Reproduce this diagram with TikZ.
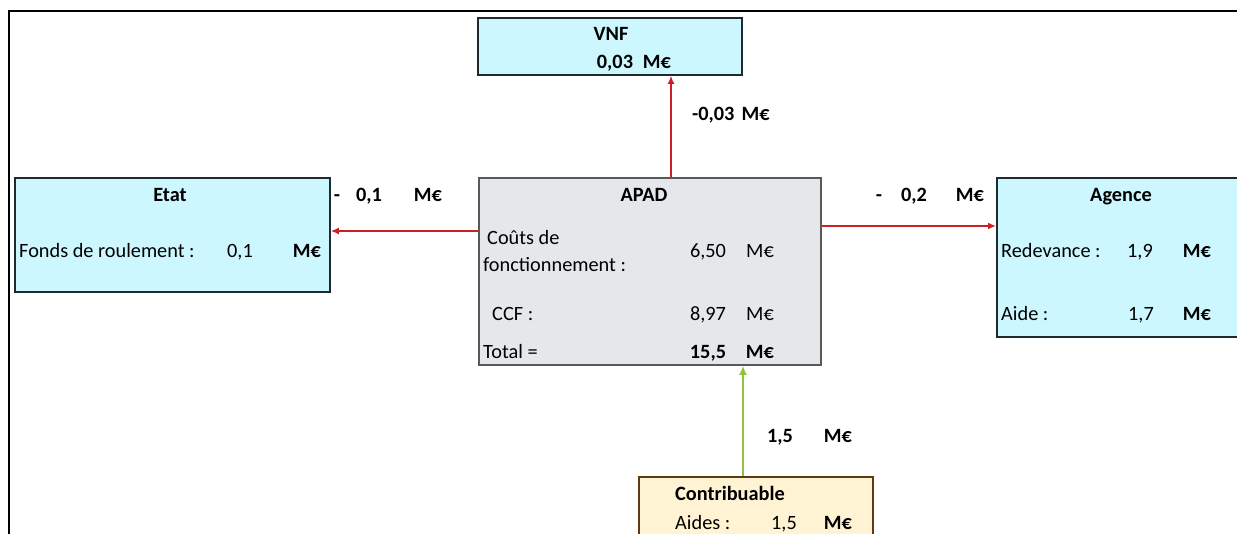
\documentclass[tikz,border=0pt]{standalone}
\usepackage{fontspec}
\setmainfont{Carlito}
\usetikzlibrary{arrows.meta}
\definecolor{boxcyan}{HTML}{CCF7FF}
\definecolor{boxgray}{HTML}{E5E8EB}
\definecolor{boxcream}{HTML}{FFF3D4}
\definecolor{brownline}{HTML}{5A3B12}
\definecolor{darkline}{HTML}{1E2A30}
\definecolor{flowred}{HTML}{CC2027}
\definecolor{flowgreen}{HTML}{8CC43C}
\tikzset{
  boxbase/.style={draw=darkline, line width=1.8pt, anchor=north west, inner sep=0pt},
  cyanbox/.style={boxbase, fill=boxcyan},
  graybox/.style={boxbase, fill=boxgray, draw=black!65},
  creambox/.style={boxbase, fill=boxcream, draw=brownline},
  txt/.style={inner sep=0pt, anchor=base, font=\fontsize{20.3}{22}\selectfont, text=black},
  btxt/.style={txt, font=\fontsize{20.3}{22}\selectfont\bfseries},
  ltxt/.style={txt, anchor=base west},
  bltxt/.style={btxt, anchor=base west},
  redflow/.style={draw=flowred, line width=2.2pt, -{Latex[length=8pt,width=7pt]}},
  greenflow/.style={draw=flowgreen, line width=2.6pt, -{Latex[length=9pt,width=8pt]}},
  frameline/.style={draw=black, line width=2pt}
}
\begin{document}
\begin{tikzpicture}[x=1pt,y=-1pt]
\useasboundingbox (0,0) rectangle (1237,533);
\clip (0,0) rectangle (1237,533);
\fill[white] (0,0) rectangle (1237,533);
% outer frame
\coordinate (fTL) at (9,11);
\coordinate (fBL) at (9,540);
\coordinate (fTR) at (1245,11);
\draw[frameline] (fBL) -- (fTL) -- (fTR);

% boxes
\node[cyanbox, minimum width=264pt, minimum height=57pt] (vnf) at (477,17) {};
\node[cyanbox, minimum width=315pt, minimum height=114pt] (etat) at (14,177) {};
\node[graybox, minimum width=342pt, minimum height=187pt] (apad) at (478,177) {};
\node[cyanbox, minimum width=260pt, minimum height=159pt] (agence) at (996,177) {};
\node[creambox, minimum width=234pt, minimum height=80pt] (contrib) at (638,476) {};

% VNF texts
\node[btxt] (vnfT) at (611,40) {VNF};
\node[btxt] (vnfV) at (615,68) {0,03};
\node[btxt] (vnfU) at (657,68) {M€};

% Etat texts
\node[btxt] (etatT) at (170,201) {Etat};
\node[ltxt] (etatL) at (19,257) {Fonds de roulement :};
\node[txt] (etatV) at (240,257) {0,1};
\node[btxt] (etatU) at (307,257) {M€};

% APAD texts
\node[btxt] (apadT) at (644,201) {APAD};
\node[ltxt] (apadL1) at (487,244) {Coûts de};
\node[ltxt] (apadL2) at (483,271) {fonctionnement :};
\node[txt] (apadV1) at (708,257) {6,50};
\node[txt] (apadU1) at (760,257) {M€};
\node[ltxt] (apadL3) at (492,320) {CCF :};
\node[txt] (apadV2) at (708,320) {8,97};
\node[txt] (apadU2) at (760,320) {M€};
\node[ltxt] (apadL4) at (483,358) {Total =};
\node[btxt] (apadV3) at (708,358) {15,5};
\node[btxt] (apadU3) at (760,358) {M€};

% Agence texts
\node[btxt] (agT) at (1121,201) {Agence};
\node[ltxt] (agL1) at (1001,257) {Redevance :};
\node[txt] (agV1) at (1140,257) {1,9};
\node[btxt] (agU1) at (1197,257) {M€};
\node[ltxt] (agL2) at (1001,320) {Aide :};
\node[txt] (agV2) at (1141,320) {1,7};
\node[btxt] (agU2) at (1197,320) {M€};

% Contribuable texts
\node[bltxt] (coT) at (675,500) {Contribuable};
\node[ltxt] (coL) at (675,529) {Aides :};
\node[txt] (coV) at (784,529) {1,5};
\node[btxt] (coU) at (838,529) {M€};

% flows
\coordinate (xv) at (671,0);
\draw[redflow] (apad.north -| xv) -- (vnf.south -| xv);
\node[bltxt] (lvnf) at (692,120) {-0,03\hspace{0.35em}M€};

\coordinate (ye) at (0,231);
\draw[redflow] (apad.west |- ye) -- (etat.east |- ye);
\node[btxt] (leD) at (337,201) {-};
\node[btxt] (leV) at (369,201) {0,1};
\node[btxt] (leU) at (428,201) {M€};

\coordinate (ya) at (0,226);
\draw[redflow] (apad.east |- ya) -- (agence.west |- ya);
\node[btxt] (laD) at (879,201) {-};
\node[btxt] (laV) at (914,201) {0,2};
\node[btxt] (laU) at (970,201) {M€};

\coordinate (xc) at (743,0);
\draw[greenflow] (contrib.north -| xc) -- (apad.south -| xc);
\node[btxt] (lcV) at (780,442) {1,5};
\node[btxt] (lcU) at (838,442) {M€};
\end{tikzpicture}
\end{document}
